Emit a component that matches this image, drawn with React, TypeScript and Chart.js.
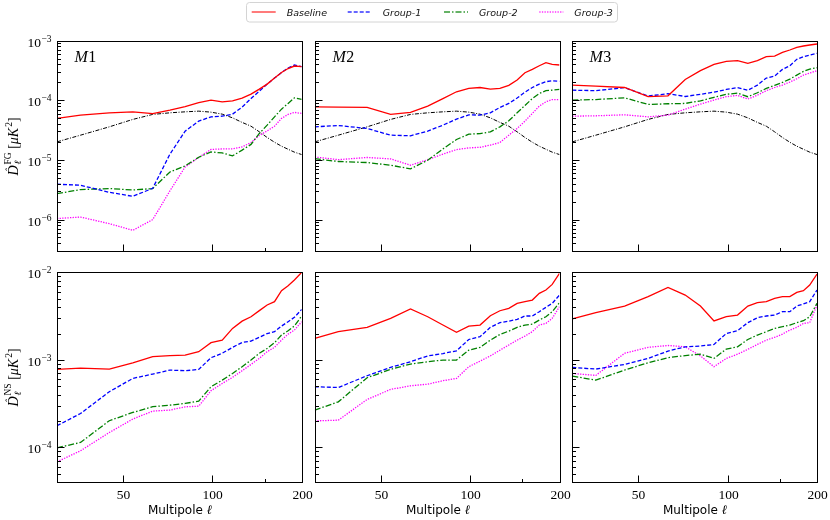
import { useEffect, useRef } from "react";
import { Chart, registerables, type ChartConfiguration, type Plugin } from "chart.js";

Chart.register(...registerables);

const FIG_W = 830;
const FIG_H = 520;
const SERIF = '"Liberation Serif", "DejaVu Serif", serif';
const SANS = '"DejaVu Sans", sans-serif';

// multipole bins shared by every curve
const ELL = [30, 36, 45, 54, 63, 72, 81, 90, 99, 108, 117, 126, 135, 144, 153, 162, 171, 180, 189, 200];

// foreground reference (black dash-dot, same in the three top panels)
const FG_REF = [2.01e-5, 2.6e-5, 3.59e-5, 4.78e-5, 5.8e-5, 6.17e-5, 6.41e-5, 6.58e-5, 6.33e-5, 5.86e-5, 5.08e-5, 4.26e-5, 3.68e-5, 2.96e-5, 2.38e-5, 1.98e-5, 1.7e-5, 1.51e-5, 1.35e-5, 1.23e-5];

// --- top row: foreground residuals
const M1_FG_BASELINE = [4.97e-5, 5.64e-5, 6.17e-5, 6.41e-5, 5.98e-5, 6.85e-5, 7.84e-5, 9.15e-5, 1.01e-4, 9.44e-5, 9.77e-5, 1.09e-4, 1.27e-4, 1.54e-4, 1.87e-4, 2.36e-4, 2.92e-4, 3.41e-4, 3.76e-4, 3.66e-4];
const M1_FG_GROUP1 = [3.91e-6, 3.76e-6, 2.86e-6, 2.45e-6, 3.34e-6, 1.25e-5, 3.04e-5, 4.47e-5, 5.28e-5, 5.42e-5, 5.86e-5, 7.69e-5, 1.07e-4, 1.43e-4, 1.87e-4, 2.36e-4, 2.92e-4, 3.48e-4, 3.91e-4, 3.66e-4];
const M1_FG_GROUP2 = [2.72e-6, 3.18e-6, 3.31e-6, 3.13e-6, 3.31e-6, 6.28e-6, 7.93e-6, 1.11e-5, 1.36e-5, 1.31e-5, 1.17e-5, 1.46e-5, 1.82e-5, 2.78e-5, 3.83e-5, 5.28e-5, 7.11e-5, 8.87e-5, 1.1e-4, 1.04e-4];
const M1_FG_GROUP3 = [1.04e-6, 1.1e-6, 8.53e-7, 6.6e-7, 9.96e-7, 3.03e-6, 7.62e-6, 1.1e-5, 1.5e-5, 1.53e-5, 1.53e-5, 1.65e-5, 1.96e-5, 2.57e-5, 3.07e-5, 3.68e-5, 4.97e-5, 5.8e-5, 6.27e-5, 6.02e-5];

const M2_FG_BASELINE = [7.78e-5, 7.69e-5, 7.59e-5, 5.79e-5, 6.26e-5, 7.99e-5, 1.07e-4, 1.39e-4, 1.58e-4, 1.64e-4, 1.54e-4, 1.58e-4, 1.78e-4, 2.19e-4, 2.9e-4, 3.3e-4, 3.8e-4, 4.27e-4, 4.01e-4, 3.91e-4];
const M2_FG_GROUP1 = [3.59e-5, 3.78e-5, 3.37e-5, 2.6e-5, 2.54e-5, 3.04e-5, 3.83e-5, 4.83e-5, 5.71e-5, 5.64e-5, 6.18e-5, 7.59e-5, 8.86e-5, 1.09e-4, 1.37e-4, 1.64e-4, 1.87e-4, 2.05e-4, 2.13e-4, 2.08e-4];
const M2_FG_GROUP2 = [1.05e-5, 9.4e-6, 9.04e-6, 8.15e-6, 7.07e-6, 9.89e-6, 1.53e-5, 2.2e-5, 2.7e-5, 2.77e-5, 2.96e-5, 3.59e-5, 4.53e-5, 6.18e-5, 8.2e-5, 1.07e-4, 1.3e-4, 1.45e-4, 1.48e-4, 1.52e-4];
const M2_FG_GROUP3 = [1.12e-5, 1.01e-5, 1.1e-5, 1.04e-5, 8.15e-6, 1.01e-5, 1.25e-5, 1.49e-5, 1.59e-5, 1.63e-5, 1.77e-5, 1.96e-5, 2.6e-5, 3.37e-5, 4.47e-5, 6.02e-5, 7.99e-5, 9.44e-5, 1.03e-4, 1.03e-4];

const M3_FG_BASELINE = [1.8e-4, 1.73e-4, 1.64e-4, 1.15e-4, 1.19e-4, 2.24e-4, 3.14e-4, 4.01e-4, 4.5e-4, 4.63e-4, 4.17e-4, 4.63e-4, 5.39e-4, 5.53e-4, 6.37e-4, 6.98e-4, 7.74e-4, 8.15e-4, 8.47e-4, 8.81e-4];
const M3_FG_GROUP1 = [1.48e-4, 1.45e-4, 1.63e-4, 1.18e-4, 1.29e-4, 1.16e-4, 1.26e-4, 1.37e-4, 1.52e-4, 1.63e-4, 1.47e-4, 1.8e-4, 2.36e-4, 2.55e-4, 3.3e-4, 3.8e-4, 4.86e-4, 5.39e-4, 5.75e-4, 6.14e-4];
const M3_FG_GROUP2 = [1.01e-4, 1.03e-4, 1.1e-4, 8.53e-5, 8.75e-5, 8.86e-5, 9.82e-5, 1.12e-4, 1.26e-4, 1.32e-4, 1.15e-4, 1.34e-4, 1.58e-4, 1.78e-4, 2.0e-4, 2.27e-4, 2.65e-4, 3.05e-4, 3.34e-4, 3.52e-4];
const M3_FG_GROUP3 = [5.42e-5, 5.5e-5, 5.71e-5, 5.28e-5, 5.64e-5, 7.11e-5, 8.63e-5, 1.01e-4, 1.15e-4, 1.21e-4, 1.05e-4, 1.22e-4, 1.45e-4, 1.64e-4, 1.8e-4, 2.02e-4, 2.3e-4, 2.65e-4, 2.86e-4, 3.14e-4];

// --- bottom row: noise spectra
const M1_NS_BASELINE = [7.78e-4, 8.05e-4, 7.85e-4, 9.27e-4, 1.09e-3, 1.12e-3, 1.13e-3, 1.24e-3, 1.57e-3, 1.68e-3, 2.29e-3, 2.77e-3, 3.11e-3, 3.65e-3, 4.23e-3, 4.62e-3, 6.17e-3, 7.03e-3, 8.16e-3, 1.0e-2];
const M1_NS_GROUP1 = [1.77e-4, 2.44e-4, 4.33e-4, 6.14e-4, 6.89e-4, 7.64e-4, 7.52e-4, 7.78e-4, 1.06e-3, 1.19e-3, 1.39e-3, 1.58e-3, 1.64e-3, 1.81e-3, 2.0e-3, 2.1e-3, 2.43e-3, 2.73e-3, 3.06e-3, 3.77e-3];
const M1_NS_GROUP2 = [9.9e-5, 1.14e-4, 2.02e-4, 2.51e-4, 2.92e-4, 3.04e-4, 3.18e-4, 3.38e-4, 4.93e-4, 5.87e-4, 7.0e-4, 8.35e-4, 9.95e-4, 1.19e-3, 1.35e-3, 1.57e-3, 1.92e-3, 2.15e-3, 2.44e-3, 3.17e-3];
const M1_NS_GROUP3 = [6.85e-5, 9.16e-5, 1.48e-4, 2.11e-4, 2.6e-4, 2.67e-4, 2.91e-4, 2.96e-4, 4.44e-4, 5.38e-4, 6.31e-4, 7.52e-4, 8.87e-4, 1.04e-3, 1.24e-3, 1.39e-3, 1.68e-3, 1.97e-3, 2.19e-3, 2.73e-3];

const M2_NS_BASELINE = [1.76e-3, 2.1e-3, 2.35e-3, 2.98e-3, 3.81e-3, 3.11e-3, 2.5e-3, 2.06e-3, 2.43e-3, 2.5e-3, 3.19e-3, 3.64e-3, 3.87e-3, 4.42e-3, 4.62e-3, 4.82e-3, 5.75e-3, 6.28e-3, 7.28e-3, 9.73e-3];
const M2_NS_GROUP1 = [4.93e-4, 4.84e-4, 6.59e-4, 8.2e-4, 9.53e-4, 1.11e-3, 1.18e-3, 1.27e-3, 1.71e-3, 1.84e-3, 2.35e-3, 2.66e-3, 2.77e-3, 2.9e-3, 3.17e-3, 3.17e-3, 3.55e-3, 3.98e-3, 4.42e-3, 5.5e-3];
const M2_NS_GROUP2 = [2.67e-4, 3.32e-4, 6.25e-4, 7.78e-4, 8.96e-4, 9.53e-4, 9.95e-4, 9.95e-4, 1.29e-3, 1.39e-3, 1.68e-3, 1.95e-3, 2.13e-3, 2.35e-3, 2.5e-3, 2.56e-3, 2.85e-3, 3.11e-3, 3.55e-3, 4.5e-3];
const M2_NS_GROUP3 = [2.01e-4, 2.05e-4, 3.53e-4, 4.6e-4, 5.06e-4, 5.28e-4, 5.78e-4, 6.14e-4, 8.35e-4, 9.68e-4, 1.11e-3, 1.29e-3, 1.48e-3, 1.68e-3, 1.87e-3, 2.1e-3, 2.5e-3, 2.61e-3, 2.98e-3, 4.05e-3];

const M3_NS_BASELINE = [2.93e-3, 3.46e-3, 4.12e-3, 5.27e-3, 6.73e-3, 5.5e-3, 4.12e-3, 2.78e-3, 3.11e-3, 3.25e-3, 4.12e-3, 4.5e-3, 4.62e-3, 5.04e-3, 5.27e-3, 5.27e-3, 5.9e-3, 6.17e-3, 7.16e-3, 9.56e-3];
const M3_NS_GROUP1 = [8.2e-4, 7.85e-4, 8.87e-4, 1.04e-3, 1.26e-3, 1.41e-3, 1.44e-3, 1.5e-3, 2.0e-3, 2.15e-3, 2.66e-3, 3.03e-3, 3.17e-3, 3.25e-3, 3.55e-3, 3.55e-3, 4.12e-3, 4.35e-3, 4.62e-3, 6.28e-3];
const M3_NS_GROUP2 = [6.53e-4, 5.87e-4, 7.65e-4, 9.27e-4, 1.06e-3, 1.12e-3, 1.16e-3, 1.04e-3, 1.33e-3, 1.41e-3, 1.71e-3, 1.92e-3, 2.1e-3, 2.29e-3, 2.39e-3, 2.5e-3, 2.66e-3, 2.8e-3, 3.11e-3, 4.42e-3];
const M3_NS_GROUP3 = [7.0e-4, 6.65e-4, 1.19e-3, 1.39e-3, 1.46e-3, 1.41e-3, 1.11e-3, 8.35e-4, 1.04e-3, 1.16e-3, 1.32e-3, 1.5e-3, 1.68e-3, 1.81e-3, 1.97e-3, 2.19e-3, 2.35e-3, 2.61e-3, 2.66e-3, 4.23e-3];

// axis limits and tick positions
const X_MIN = 30;
const X_MAX = 200;
const X_MAJOR = [50, 100, 200];
const X_MINOR = [150];
const FG_YLIM = [3e-7, 1e-3];
const NS_YLIM = [4e-5, 1e-2];

// layout of the 2x3 grid (axes boxes in page pixels)
const COL_LEFT = [57, 314.8, 572.3];
const ROW_TOP = [40.7, 272.3];
const BOX_W = 244.7;
const BOX_H = 210;

const SERIES_STYLE = [
  { label: "Baseline", color: "#ff0000", dash: [] as number[] },
  { label: "Group-1", color: "#0000ff", dash: [4, 2] },
  { label: "Group-2", color: "#008000", dash: [6, 2, 1.5, 2] },
  { label: "Group-3", color: "#ff00ff", dash: [1.3, 1.3] },
];
const LEGEND_X = [251.7, 347.7, 444, 539.3];

type PanelSpec = { tag: string; row: number; col: number; series: number[][] };

const PANELS: PanelSpec[] = [
  { tag: "1", row: 0, col: 0, series: [M1_FG_BASELINE, M1_FG_GROUP1, M1_FG_GROUP2, M1_FG_GROUP3] },
  { tag: "2", row: 0, col: 1, series: [M2_FG_BASELINE, M2_FG_GROUP1, M2_FG_GROUP2, M2_FG_GROUP3] },
  { tag: "3", row: 0, col: 2, series: [M3_FG_BASELINE, M3_FG_GROUP1, M3_FG_GROUP2, M3_FG_GROUP3] },
  { tag: "", row: 1, col: 0, series: [M1_NS_BASELINE, M1_NS_GROUP1, M1_NS_GROUP2, M1_NS_GROUP3] },
  { tag: "", row: 1, col: 1, series: [M2_NS_BASELINE, M2_NS_GROUP1, M2_NS_GROUP2, M2_NS_GROUP3] },
  { tag: "", row: 1, col: 2, series: [M3_NS_BASELINE, M3_NS_GROUP1, M3_NS_GROUP2, M3_NS_GROUP3] },
];

function seg(ctx: CanvasRenderingContext2D, x0: number, y0: number, x1: number, y1: number) {
  ctx.beginPath();
  ctx.moveTo(x0, y0);
  ctx.lineTo(x1, y1);
  ctx.stroke();
}

// "10" with a raised exponent, right-aligned at xRight
function drawPow(ctx: CanvasRenderingContext2D, exp: number, xRight: number, y: number) {
  const sup = (exp < 0 ? "\u2212" : "") + Math.abs(exp);
  ctx.font = `13.5px ${SERIF}`;
  const wb = ctx.measureText("10").width;
  ctx.font = `9.5px ${SERIF}`;
  const ws = ctx.measureText(sup).width;
  const x0 = xRight - wb - ws - 0.5;
  ctx.font = `13.5px ${SERIF}`;
  ctx.fillText("10", x0, y + 5.5);
  ctx.font = `9.5px ${SERIF}`;
  ctx.fillText(sup, x0 + wb + 0.5, y + 0.5);
}

function drawYTitle(ctx: CanvasRenderingContext2D, xBase: number, cy: number, sup: string) {
  ctx.save();
  ctx.translate(xBase, cy);
  ctx.rotate(-Math.PI / 2);
  const big = `italic 14px ${SERIF}`;
  const reg = `14px ${SERIF}`;
  const small = `9.5px ${SERIF}`;
  const smallIt = `italic 9.5px ${SERIF}`;
  ctx.font = big;
  const wD = ctx.measureText("D").width;
  const wMuK = ctx.measureText("\u03bcK").width;
  ctx.font = smallIt;
  const wEll = ctx.measureText("\u2113").width;
  ctx.font = small;
  const wSup = ctx.measureText(sup).width;
  const w2 = ctx.measureText("2").width;
  ctx.font = reg;
  const wOpen = ctx.measureText(" [").width;
  const wClose = ctx.measureText("]").width;
  const total = wD + 1 + Math.max(wEll, wSup) + wOpen + wMuK + w2 + 1 + wClose;
  let x = -total / 2;
  ctx.font = big;
  ctx.fillText("D", x, 0);
  ctx.font = `italic 11px ${SERIF}`;
  ctx.fillText("\u02c6", x + 3.5, -4.5);
  x += wD + 1;
  ctx.font = smallIt;
  ctx.fillText("\u2113", x, 3);
  ctx.font = small;
  ctx.fillText(sup, x, -6.5);
  x += Math.max(wEll, wSup);
  ctx.font = reg;
  ctx.fillText(" [", x, 0);
  x += wOpen;
  ctx.font = big;
  ctx.fillText("\u03bcK", x, 0);
  x += wMuK + 1;
  ctx.font = small;
  ctx.fillText("2", x, -6);
  x += w2;
  ctx.font = reg;
  ctx.fillText("]", x, 0);
  ctx.restore();
}

function drawLegend(ctx: CanvasRenderingContext2D) {
  ctx.save();
  ctx.beginPath();
  ctx.roundRect(246.5, 2.5, 371, 19.5, 3);
  ctx.fillStyle = "rgba(255,255,255,0.8)";
  ctx.fill();
  ctx.strokeStyle = "#d4d4d4";
  ctx.lineWidth = 1;
  ctx.stroke();
  SERIES_STYLE.forEach((s, i) => {
    const x = LEGEND_X[i];
    ctx.globalAlpha = 0.8;
    ctx.strokeStyle = s.color;
    ctx.lineWidth = 1.3;
    ctx.setLineDash(s.dash);
    seg(ctx, x, 12, x + 24, 12);
    ctx.globalAlpha = 1;
    ctx.setLineDash([]);
    ctx.fillStyle = "#111";
    ctx.font = `italic 9.5px ${SANS}`;
    ctx.fillText(s.label, x + 35, 15.5);
  });
  ctx.restore();
}

// matplotlib-like axes: box frame, inward ticks, mathtext-ish labels
const mplAxes: Plugin<"line"> = {
  id: "mplAxes",
  afterDraw(chart, _args, opts: any) {
    const { ctx, chartArea: a } = chart;
    const xs = chart.scales.x;
    const ys = chart.scales.y;
    const L = Math.round(a.left) + 0.5;
    const T = Math.round(a.top) + 0.5;
    const R = Math.round(a.right) + 0.5;
    const B = Math.round(a.bottom) + 0.5;
    ctx.save();
    ctx.setLineDash([]);
    ctx.strokeStyle = "#000";
    ctx.fillStyle = "#000";
    ctx.lineWidth = 1;
    ctx.textAlign = "left";
    ctx.textBaseline = "alphabetic";
    ctx.strokeRect(L, T, R - L, B - T);

    const lo = Math.floor(Math.log10(ys.min));
    const hi = Math.ceil(Math.log10(ys.max));
    for (let e = lo; e <= hi; e++) {
      for (let m = 1; m <= 9; m++) {
        const v = m * Math.pow(10, e);
        if (v < ys.min * 0.999 || v > ys.max * 1.001) continue;
        const py = Math.round(ys.getPixelForValue(v)) + 0.5;
        seg(ctx, L, py, L + (m === 1 ? 7 : 3.5), py);
        if (m === 1 && opts.yLabels) drawPow(ctx, e, L - 6, py);
      }
    }
    X_MAJOR.forEach((v) => {
      const px = Math.round(xs.getPixelForValue(v)) + 0.5;
      seg(ctx, px, B, px, B - 7);
      if (opts.xLabels) {
        ctx.font = `13.5px ${SERIF}`;
        ctx.textAlign = "center";
        ctx.fillText(String(v), px, B + 16.5);
        ctx.textAlign = "left";
      }
    });
    X_MINOR.forEach((v) => {
      const px = Math.round(xs.getPixelForValue(v)) + 0.5;
      seg(ctx, px, B, px, B - 3.5);
    });

    if (opts.xLabels) {
      ctx.font = `12px ${SANS}`;
      const w1 = ctx.measureText("Multipole ").width;
      ctx.font = `italic 13px ${SERIF}`;
      const w2 = ctx.measureText("\u2113").width;
      const x0 = (L + R) / 2 - (w1 + w2) / 2;
      ctx.font = `12px ${SANS}`;
      ctx.fillText("Multipole ", x0, B + 31.5);
      ctx.font = `italic 13px ${SERIF}`;
      ctx.fillText("\u2113", x0 + w1, B + 31.5);
    }

    if (opts.tag) {
      ctx.font = `italic 16px ${SERIF}`;
      const wm = ctx.measureText("M").width;
      ctx.fillText("M", L + 17, T + 20.5);
      ctx.font = `16px ${SERIF}`;
      ctx.fillText(opts.tag, L + 17 + wm + 0.5, T + 20.5);
    }
    if (opts.yTitle) drawYTitle(ctx, 17.5, (T + B) / 2, opts.yTitle);
    if (opts.legend) drawLegend(ctx);
    ctx.restore();
  },
};

function panelConfig(p: PanelSpec): ChartConfiguration<"line"> {
  const top = p.row === 0;
  const left = COL_LEFT[p.col];
  const topPx = ROW_TOP[p.row];
  const ylim = top ? FG_YLIM : NS_YLIM;
  const datasets: any[] = p.series.map((vals, i) => ({
    label: SERIES_STYLE[i].label,
    data: ELL.map((x, k) => ({ x, y: vals[k] })),
    borderColor: SERIES_STYLE[i].color,
    borderWidth: 1.3,
    borderDash: SERIES_STYLE[i].dash,
    pointRadius: 0,
    tension: 0,
    fill: false,
  }));
  if (top) {
    datasets.push({
      label: "FG",
      data: ELL.map((x, k) => ({ x, y: FG_REF[k] })),
      borderColor: "#000",
      borderWidth: 1,
      borderDash: [4, 1.5, 1, 1.5],
      pointRadius: 0,
      tension: 0,
      fill: false,
    });
  }
  return {
    type: "line",
    data: { datasets },
    options: {
      animation: false,
      responsive: false,
      events: [],
      layout: {
        padding: { left, top: topPx, right: FIG_W - left - BOX_W, bottom: FIG_H - topPx - BOX_H },
      },
      scales: {
        x: { type: "logarithmic", min: X_MIN, max: X_MAX, display: false },
        y: { type: "logarithmic", min: ylim[0], max: ylim[1], display: false },
      },
      plugins: {
        legend: { display: false },
        tooltip: { enabled: false },
        // @ts-ignore custom plugin options
        mplAxes: {
          tag: p.tag,
          yLabels: p.col === 0,
          xLabels: p.row === 1,
          yTitle: p.col === 0 ? (top ? "FG" : "NS") : "",
          legend: p.row === 0 && p.col === 0,
        },
      },
    },
    plugins: [mplAxes],
  };
}

function Panel({ spec }: { spec: PanelSpec }) {
  const ref = useRef<HTMLCanvasElement>(null);
  useEffect(() => {
    if (!ref.current) return;
    const chart = new Chart(ref.current, panelConfig(spec));
    return () => chart.destroy();
  }, [spec]);
  return (
    <canvas ref={ref} width={FIG_W} height={FIG_H} style={{ position: "absolute", left: 0, top: 0, width: FIG_W, height: FIG_H }} />
  );
}

export default function App() {
  useEffect(() => {
    document.body.style.margin = "0";
  }, []);
  return (
    <div style={{ position: "relative", width: FIG_W, height: FIG_H, background: "#fff" }}>
      {PANELS.map((p, i) => (
        <Panel key={i} spec={p} />
      ))}
    </div>
  );
}
